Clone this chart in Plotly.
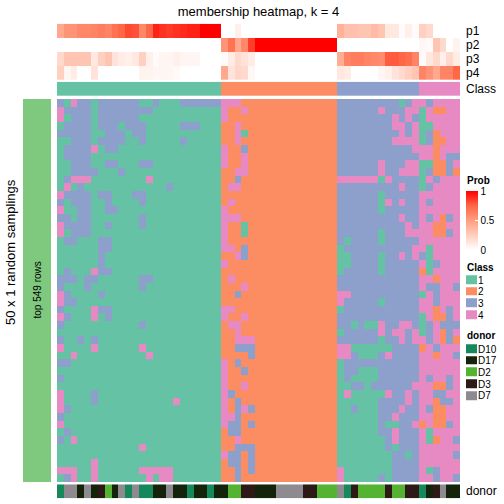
import plotly.graph_objects as go

# ---------------- data ----------------
title_text = "membership heatmap, k = 4"
row_title = "50 x 1 random samplings"
bar_label = "top 549 rows"

class_names = ["1", "2", "3", "4"]
class_colors = ["#66C2A5", "#FC8D62", "#8DA0CB", "#E78AC3"]
donor_names = ["D10", "D17", "D2", "D3", "D7"]
donor_colors = ["#16895C", "#14240B", "#54B331", "#2D1A16", "#8F8A90"]
prob_names = ["p1", "p2", "p3", "p4"]

# class of each of the 59 columns
column_class = "111111111111111111111111 22222222222222222 333333333333 444444"

# donor of each column
column_donor = ["D10", "D7", "D7", "D17", "D7", "D17", "D3", "D2", "D17", "D7",
                "D10", "D7", "D10", "D10", "D17", "D17", "D7", "D17", "D17", "D10",
                "D17", "D17", "D10", "D17", "D17", "D2", "D2", "D3", "D3", "D17",
                "D17", "D17", "D7", "D7", "D7", "D7", "D3", "D3", "D2", "D2",
                "D2", "D7", "D10", "D3", "D2", "D2", "D2", "D2", "D3", "D2",
                "D2", "D3", "D3", "D10", "D17", "D3", "D7", "D17", "D17"]

p1 = [0.45, 0.55, 0.55, 0.6, 0.6, 0.62, 0.65, 0.62, 0.7, 0.75, 0.82, 0.8, 0.6, 0.75, 0.92, 0.88, 0.86, 0.88, 0.9, 0.92, 0.92, 1.0, 1.0, 1.0,
      0, 0, 0.08, 0, 0, 0, 0, 0, 0, 0, 0, 0, 0, 0, 0, 0, 0,
      0.4, 0.32, 0.32, 0.3, 0.3, 0.35, 0.3, 0.12, 0.12, 0.02, 0.08, 0.02,
      0.25, 0.2, 0, 0, 0, 0]
p2 = [0, 0, 0, 0, 0, 0, 0, 0, 0, 0, 0, 0, 0, 0, 0, 0, 0, 0, 0, 0, 0, 0, 0, 0,
      0.55, 0.7, 0.45, 0.6, 0.85, 1, 1, 1, 1, 1, 1, 1, 1, 1, 1, 1, 1,
      0, 0, 0, 0, 0, 0, 0, 0, 0, 0, 0, 0,
      0.04, 0.02, 0.3, 0.2, 0, 0.06]
p3 = [0.2, 0.3, 0.3, 0.3, 0.3, 0.12, 0.25, 0.3, 0.15, 0.1, 0.08, 0.12, 0.25, 0.08, 0.02, 0.05, 0.05, 0.08, 0.05, 0.05, 0.05, 0, 0, 0,
      0.02, 0.1, 0.2, 0.15, 0.1, 0, 0, 0, 0, 0, 0, 0, 0, 0, 0, 0, 0,
      0.42, 0.62, 0.65, 0.65, 0.62, 0.6, 0.58, 0.78, 0.78, 0.75, 0.72, 0.62,
      0.02, 0.12, 0.2, 0.08, 0.2, 0.1]
p4 = [0.25, 0.05, 0.1, 0, 0, 0.15, 0, 0, 0, 0, 0, 0, 0.06, 0.06, 0.04, 0.05, 0.05, 0.03, 0, 0, 0, 0, 0, 0,
      0.45, 0.15, 0.22, 0.2, 0.04, 0, 0, 0, 0, 0, 0, 0, 0, 0, 0, 0, 0,
      0.12, 0.1, 0, 0, 0, 0, 0.05, 0.08, 0.15, 0.2, 0.25, 0.3,
      0.62, 0.55, 0.45, 0.62, 0.62, 0.75]

# 50 sampling rows x 59 columns, class labels 1..4
membership_rows = [
    "314331 333333 113111 333333 | 44422 222222222222 | 333333333134 | 434444",
    "433331 333333 331111 111111 | 42242 222222222222 | 333333433344 | 142244",
    "413331 333333 111111 111111 | 42222 222222222222 | 333333334343 | 144444",
    "133331 333133 311111 333111 | 22422 222222222222 | 333333334434 | 114444",
    "333331 133313 311111 111111 | 22412 222222222222 | 333333333434 | 132444",
    "113331 333311 311111 311111 | 22422 222222222222 | 333333334444 | 132244",
    "133334 133111 111111 111111 | 42232 222222222222 | 333333333334 | 442444",
    "133331 111111 111111 111111 | 42242 222222222222 | 333333333333 | 442433",
    "113331 133111 331111 111111 | 42242 222222222222 | 333333433344 | 112234",
    "113333 111311 111111 111111 | 22442 222222222222 | 333333433444 | 132232",
    "134441 111111 141111 111111 | 22322 222222222222 | 444444143333 | 143444",
    "141311 111111 111131 111111 | 24422 222222222222 | 333333333433 | 134444",
    "433331 331113 311111 111111 | 22222 222222222222 | 333333133333 | 444444",
    "313331 131111 311111 111111 | 24222 222222222222 | 333333143433 | 434444",
    "411331 133111 111111 111111 | 42222 222222222222 | 333333133333 | 444444",
    "331331 111111 311111 111111 | 44422 222222222222 | 333333333433 | 434234",
    "433331 131111 311111 111111 | 42212 222222222222 | 333333333343 | 442244",
    "413331 111111 111111 111111 | 42212 222222222222 | 333333133344 | 442234",
    "133111 331111 111111 111111 | 42222 222222222222 | 313333133333 | 444444",
    "111111 331111 111111 111111 | 44232 222222222222 | 133333333334 | 414444",
    "111111 311111 111111 111111 | 22432 222222222222 | 113333133434 | 314444",
    "111111 311111 111111 111111 | 42222 222222222222 | 113333133333 | 413444",
    "131114 331111 111111 111111 | 22222 222222222222 | 133333133333 | 214444",
    "333133 111111 331111 111111 | 24222 222222222222 | 333333333333 | 442444",
    "311131 111111 311111 111111 | 22242 222222222222 | 333333333333 | 433443",
    "431111 311111 111111 111111 | 22322 222222222222 | 443333333333 | 143444",
    "433111 111111 111111 111111 | 22222 222222222222 | 433333133333 | 443444",
    "311114 331111 111111 111111 | 44222 222222222222 | 133333333333 | 442434",
    "431114 131111 111111 111111 | 42242 222222222222 | 333333333333 | 142234",
    "311111 111111 311111 111111 | 24422 222222222222 | 331311433443 | 134333",
    "111111 111111 111111 111111 | 22422 222222222222 | 133333434434 | 134234",
    "311313 111111 111111 111111 | 22444 222222222222 | 333333133434 | 434232",
    "411114 111111 411111 111111 | 22333 222222222222 | 441111113333 | 243444",
    "114111 111111 141111 111111 | 22223 222222222222 | 443111343333 | 442443",
    "331111 111111 111111 111111 | 42322 222222222222 | 133333333333 | 444444",
    "111111 111111 111111 111111 | 42232 222222222222 | 133111333333 | 444444",
    "311111 111111 111111 111111 | 42222 222222222222 | 131111333333 | 434434",
    "111111 111111 111111 111111 | 42242 222222222222 | 113313333334 | 442234",
    "411113 111111 111111 111111 | 43222 222222222222 | 141111143343 | 443344",
    "411113 111111 111114 111111 | 42322 222222222222 | 111111333343 | 442334",
    "431111 111111 111111 111111 | 42343 222222222222 | 113111333433 | 432244",
    "311111 111111 111111 111111 | 44322 222222222222 | 111111334333 | 442244",
    "411111 111111 111111 111111 | 43323 222222222222 | 111111311334 | 242234",
    "131111 111111 111111 111111 | 23322 222222222222 | 111111334333 | 414444",
    "314111 111111 111111 111111 | 22422 222222222222 | 111111134333 | 412443",
    "111111 111111 411111 111111 | 22333 222222222222 | 111111131333 | 444444",
    "111111 111111 111111 111111 | 43323 222222222222 | 111111113313 | 444443",
    "111114 111111 111111 111111 | 23323 222222222222 | 111111113333 | 444444",
    "444114 111111 444441 111111 | 22323 222222222222 | 411111113333 | 413444",
    "134114 111111 141441 111111 | 22322 222222222222 | 411111313333 | 443443",
]

# ---------------- build ----------------
def clean(s):
    return s.replace(" ", "").replace("|", "")

z_main = []
for i, r in enumerate(membership_rows):
    row = [int(c) for c in clean(r)]
    if len(row) != 59:
        raise ValueError("row %d has %d cells" % (i, len(row)))
    z_main.append(row)

col_cls = [int(c) for c in clean(column_class)]
col_don = [donor_names.index(d) for d in column_donor]
for nm, arr in [("p1", p1), ("p2", p2), ("p3", p3), ("p4", p4), ("cls", col_cls), ("don", col_don)]:
    if len(arr) != 59:
        raise ValueError("%s has %d" % (nm, len(arr)))


def discrete_scale(colors):
    n = len(colors)
    sc = []
    for i, c in enumerate(colors):
        sc.append([i / n, c])
        sc.append([(i + 1) / n, c])
    return sc


prob_scale = [[0, "#FFFFFF"], [0.25, "rgb(255,207,191)"], [0.5, "rgb(255,158,129)"],
              [0.75, "rgb(255,103,70)"], [1, "#FF0000"]]

W = H = 504.0
FONT = "Liberation Sans, Arial, sans-serif"


def ydom(top, bottom):
    return [1 - bottom / H, 1 - top / H]


cols = list(range(59))
fig = go.Figure()

# main membership heatmap
fig.add_trace(go.Heatmap(z=z_main, x=cols, y=list(range(50)), xaxis="x", yaxis="y",
                         colorscale=discrete_scale(class_colors), zmin=0.5, zmax=4.5,
                         showscale=False, hoverinfo="skip"))
# probability annotation
fig.add_trace(go.Heatmap(z=[p1, p2, p3, p4], x=cols, y=[0, 1, 2, 3], xaxis="x", yaxis="y2",
                         colorscale=prob_scale, zmin=0, zmax=1, hoverinfo="skip",
                         showscale=True,
                         colorbar=dict(x=466 / W, xanchor="left", xpad=0,
                                       y=1 - 250 / H, yanchor="bottom", ypad=0,
                                       len=59, lenmode="pixels", thickness=12,
                                       thicknessmode="pixels", outlinewidth=0,
                                       tickvals=[0, 0.5, 1], ticktext=["0", "0.5", "1"],
                                       ticks="inside", tickcolor="white", ticklen=3,
                                       tickfont=dict(size=10, family=FONT, color="black"))))
# class annotation
fig.add_trace(go.Heatmap(z=[col_cls], x=cols, y=[0], xaxis="x", yaxis="y3",
                         colorscale=discrete_scale(class_colors), zmin=0.5, zmax=4.5,
                         showscale=False, hoverinfo="skip"))
# donor annotation
fig.add_trace(go.Heatmap(z=[col_don], x=cols, y=[0], xaxis="x", yaxis="y4",
                         colorscale=discrete_scale(donor_colors), zmin=-0.5, zmax=4.5,
                         showscale=False, hoverinfo="skip"))
# left row-group bar
fig.add_trace(go.Heatmap(z=[[0]], x=[0], y=[0], xaxis="x2", yaxis="y5",
                         colorscale=[[0, "#7FC97F"], [1, "#7FC97F"]], zmin=0, zmax=1,
                         showscale=False, hoverinfo="skip"))
# legend swatches
fig.add_trace(go.Heatmap(z=[[1], [2], [3], [4]], x=[0], y=[0, 1, 2, 3], xaxis="x3", yaxis="y6",
                         colorscale=discrete_scale(class_colors), zmin=0.5, zmax=4.5, ygap=3,
                         showscale=False, hoverinfo="skip"))
fig.add_trace(go.Heatmap(z=[[0], [1], [2], [3], [4]], x=[0], y=[0, 1, 2, 3, 4], xaxis="x3", yaxis="y7",
                         colorscale=discrete_scale(donor_colors), zmin=-0.5, zmax=4.5, ygap=3,
                         showscale=False, hoverinfo="skip"))

hidden = dict(visible=False, showgrid=False, zeroline=False, fixedrange=True)
lab_axis = dict(showgrid=False, zeroline=False, showline=False, ticks="", side="right",
                tickfont=dict(size=10, family=FONT, color="black"), fixedrange=True)

fig.update_layout(
    width=504, height=504, margin=dict(l=0, r=0, t=0, b=0),
    paper_bgcolor="white", plot_bgcolor="white",
    font=dict(family=FONT, color="black"),
    showlegend=False,
    title=dict(text=title_text, x=258.5 / W, xanchor="center", y=1 - 11 / H, yanchor="middle",
               font=dict(size=13, family=FONT, color="black")),
    xaxis=dict(domain=[57 / W, 460 / W], range=[-0.5, 58.5], **hidden),
    xaxis2=dict(domain=[23 / W, 51 / W], range=[-0.5, 0.5], anchor="y5", **hidden),
    xaxis3=dict(domain=[466 / W, 477 / W], range=[-0.5, 0.5], anchor="y6", **hidden),
    yaxis=dict(domain=ydom(99, 482), range=[49.5, -0.5], anchor="x", **hidden),
    yaxis2=dict(domain=ydom(23.7, 80), range=[3.5, -0.5], anchor="x", **hidden),
    yaxis3=dict(domain=ydom(81.7, 96), range=[0.5, -0.5], anchor="x", **hidden),
    yaxis4=dict(domain=ydom(484.3, 498.3), range=[0.5, -0.5], anchor="x", **hidden),
    yaxis5=dict(domain=ydom(99, 482), range=[-0.5, 0.5], anchor="x2", **hidden),
    yaxis6=dict(domain=ydom(274.2, 321.0), range=[3.5, -0.5], anchor="x3",
                tickvals=[0, 1, 2, 3], ticktext=class_names, **lab_axis),
    yaxis7=dict(domain=ydom(343.2, 401.7), range=[4.5, -0.5], anchor="x3",
                tickvals=[0, 1, 2, 3, 4], ticktext=donor_names, **lab_axis),
)

ann = []
for i, nm in enumerate(prob_names):
    ann.append(dict(text=nm, xref="paper", yref="y2", x=464 / W, y=i, xanchor="left",
                    yanchor="middle", showarrow=False, font=dict(size=12, family=FONT)))
ann.append(dict(text="Class", xref="paper", yref="y3", x=464 / W, y=0, xanchor="left",
                yanchor="middle", showarrow=False, font=dict(size=12, family=FONT)))
ann.append(dict(text="donor", xref="paper", yref="y4", x=464 / W, y=0, xanchor="left",
                yanchor="middle", showarrow=False, font=dict(size=12, family=FONT)))
ann.append(dict(text="<b>Prob</b>", xref="paper", yref="paper", x=465 / W, y=1 - 180 / H,
                xanchor="left", yanchor="middle", showarrow=False, font=dict(size=10, family=FONT)))
ann.append(dict(text="<b>Class</b>", xref="paper", yref="paper", x=465 / W, y=1 - 267 / H,
                xanchor="left", yanchor="middle", showarrow=False, font=dict(size=10, family=FONT)))
ann.append(dict(text="<b>donor</b>", xref="paper", yref="paper", x=465 / W, y=1 - 335 / H,
                xanchor="left", yanchor="middle", showarrow=False, font=dict(size=10, family=FONT)))
ann.append(dict(text=row_title, xref="paper", yref="paper", x=10 / W, y=1 - 252 / H,
                xanchor="center", yanchor="middle", textangle=-90, showarrow=False,
                font=dict(size=13, family=FONT)))
ann.append(dict(text=bar_label, xref="x2", yref="y5", x=0, y=0,
                xanchor="center", yanchor="middle", textangle=-90, showarrow=False,
                font=dict(size=10, family=FONT)))
fig.update_layout(annotations=ann)

fig.write_html("out.html", config={"displayModeBar": False},
               post_script="document.body.style.margin='0px';document.body.style.overflow='hidden';")
